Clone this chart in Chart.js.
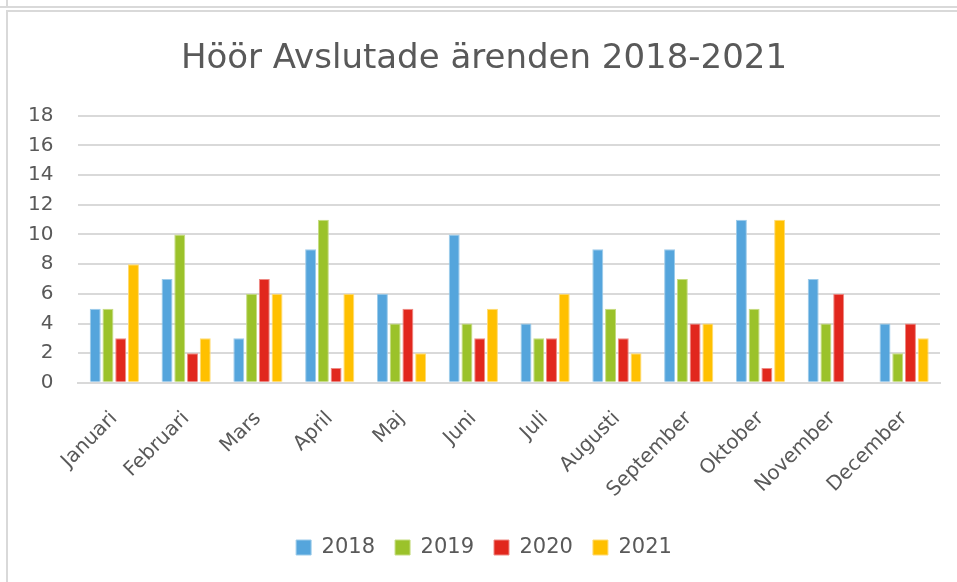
<!DOCTYPE html>
<html>
<head>
<meta charset="utf-8">
<script src="https://cdn.jsdelivr.net/npm/chart.js@4/dist/chart.umd.min.js"></script>
<style>
  html, body { margin: 0; padding: 0; background: #fff; }
  #wrap { position: relative; width: 957px; height: 582px; overflow: hidden; }
  #topline1 { position: absolute; left: 0; top: 6px; width: 957px; height: 2px; background: #d9d9d9; }
  #topleft { position: absolute; left: 6px; top: 0; width: 2px; height: 7px; background: #d9d9d9; }
  #topline2 { position: absolute; left: 6px; top: 10px; width: 951px; height: 2px; background: #d9d9d9; }
  #leftline { position: absolute; left: 6px; top: 10px; width: 2px; height: 572px; background: #d9d9d9; }
  #chartbox { position: absolute; left: 8px; top: 12px; width: 949px; height: 570px; }
</style>
</head>
<body>
<div id="wrap">
  <div id="topline1"></div>
  <div id="topleft"></div>
  <div id="topline2"></div>
  <div id="leftline"></div>
  <div id="chartbox"><canvas id="c" width="949" height="570"></canvas></div>
</div>
<script>
const titleText = 'Höör Avslutade ärenden 2018-2021';
const months = ['Januari','Februari','Mars','April','Maj','Juni','Juli','Augusti','September','Oktober','November','December'];
const seriesNames = ['2018','2019','2020','2021'];
const v2018 = [5, 7, 3, 9, 6, 10, 4, 9, 9, 11, 7, 4];
const v2019 = [5, 10, 6, 11, 4, 4, 3, 5, 7, 5, 4, 2];
const v2020 = [3, 2, 7, 1, 5, 3, 3, 3, 4, 1, 6, 4];
const v2021 = [8, 3, 6, 6, 2, 5, 6, 2, 4, 11, null, 3];
const yTicks = [0, 2, 4, 6, 8, 10, 12, 14, 16, 18];

const colors = ['#55A5DC', '#9BC22A', '#E1271D', '#FFC000'];
const borders = ['#9ccbea', '#c5dc80', '#ee8a84', '#ffdb73'];
const values = [v2018, v2019, v2020, v2021];

const font = "'DejaVu Sans', Verdana, sans-serif";

new Chart(document.getElementById('c'), {
  type: 'bar',
  data: {
    labels: months,
    datasets: seriesNames.map((n, i) => ({
      label: n,
      data: values[i],
      backgroundColor: colors[i],
      borderColor: borders[i],
      borderWidth: 1,
      categoryPercentage: 0.71,
      barPercentage: 0.86
    }))
  },
  options: {
    responsive: false,
    animation: false,
    layout: { padding: { left: 20, right: 17, top: 16, bottom: 14 } },
    plugins: {
      title: {
        display: true,
        text: titleText,
        color: '#595959',
        font: { family: font, size: 34, weight: 'normal' },
        padding: { top: 11, bottom: 36 }
      },
      legend: {
        position: 'bottom',
        labels: {
          color: '#595959',
          font: { family: font, size: 21 },
          boxWidth: 15,
          boxHeight: 15,
          padding: 20
        }
      },
      tooltip: { enabled: false }
    },
    scales: {
      x: {
        grid: { display: false },
        border: { display: true, color: '#d9d9d9', width: 2 },
        afterFit: (s) => { s.paddingLeft = 0; s.paddingRight = 0; s.height -= 1; },
        ticks: {
          color: '#595959',
          font: { family: font, size: 20 },
          maxRotation: 45,
          minRotation: 45,
          autoSkip: false,
          padding: 16
        }
      },
      y: {
        min: 0,
        max: 18,
        afterBuildTicks: (axis) => { axis.ticks = yTicks.map(v => ({ value: v })); },
        afterFit: (s) => { s.width -= 25; },
        grid: { color: '#d9d9d9', lineWidth: 2, drawTicks: false },
        border: { display: false },
        ticks: {
          color: '#595959',
          font: { family: font, size: 20 },
          padding: 25
        }
      }
    }
  }
});
</script>
</body>
</html>
